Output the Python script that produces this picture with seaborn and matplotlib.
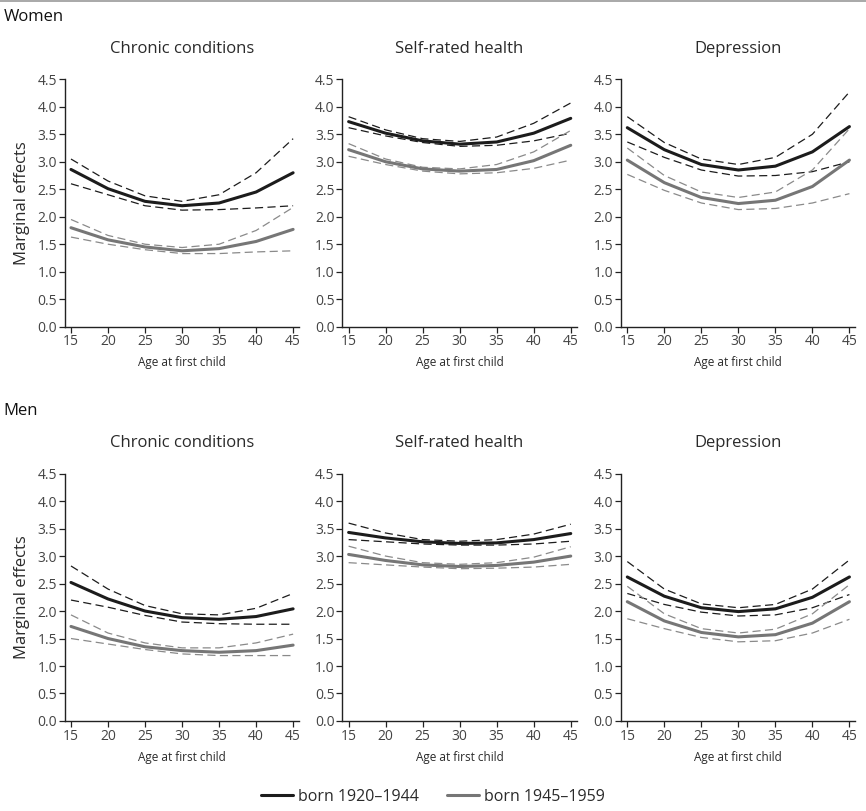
import numpy as np
import pandas as pd
import matplotlib
matplotlib.use("Agg")
import matplotlib.pyplot as plt
import seaborn as sns
from matplotlib.lines import Line2D

sns.set_theme(style="white")
plt.rcParams['font.family'] = ['Open Sans', 'DejaVu Sans']

ages = [15, 20, 25, 30, 35, 40, 45]
sexes = ["Women", "Men"]
outcomes = ["Chronic conditions", "Self-rated health", "Depression"]
cohorts = ["born 1920\u20131944", "born 1945\u20131959"]
yticks = [0.0, 0.5, 1.0, 1.5, 2.0, 2.5, 3.0, 3.5, 4.0, 4.5]
xticks = [15, 20, 25, 30, 35, 40, 45]

# Women - Chronic conditions
w_cc_old_est = [2.86, 2.51, 2.28, 2.20, 2.25, 2.45, 2.80]
w_cc_old_hi  = [3.05, 2.65, 2.38, 2.28, 2.40, 2.80, 3.42]
w_cc_old_lo  = [2.60, 2.40, 2.20, 2.12, 2.13, 2.16, 2.20]
w_cc_new_est = [1.80, 1.58, 1.45, 1.38, 1.42, 1.55, 1.77]
w_cc_new_hi  = [1.95, 1.66, 1.50, 1.44, 1.50, 1.75, 2.17]
w_cc_new_lo  = [1.63, 1.50, 1.40, 1.33, 1.33, 1.36, 1.38]
# Women - Self-rated health
w_sr_old_est = [3.73, 3.52, 3.38, 3.32, 3.36, 3.52, 3.79]
w_sr_old_hi  = [3.82, 3.58, 3.42, 3.37, 3.45, 3.70, 4.07]
w_sr_old_lo  = [3.62, 3.47, 3.35, 3.28, 3.30, 3.38, 3.52]
w_sr_new_est = [3.22, 3.00, 2.87, 2.83, 2.86, 3.02, 3.30]
w_sr_new_hi  = [3.33, 3.05, 2.90, 2.87, 2.95, 3.18, 3.57]
w_sr_new_lo  = [3.10, 2.95, 2.83, 2.78, 2.80, 2.88, 3.03]
# Women - Depression
w_dp_old_est = [3.62, 3.22, 2.95, 2.85, 2.92, 3.18, 3.64]
w_dp_old_hi  = [3.82, 3.35, 3.05, 2.95, 3.08, 3.50, 4.27]
w_dp_old_lo  = [3.36, 3.08, 2.85, 2.74, 2.75, 2.82, 3.00]
w_dp_new_est = [3.03, 2.62, 2.35, 2.24, 2.30, 2.55, 3.03]
w_dp_new_hi  = [3.25, 2.75, 2.45, 2.35, 2.45, 2.85, 3.60]
w_dp_new_lo  = [2.77, 2.48, 2.25, 2.13, 2.15, 2.25, 2.42]
# Men - Chronic conditions
m_cc_old_est = [2.52, 2.22, 2.00, 1.88, 1.85, 1.90, 2.04]
m_cc_old_hi  = [2.82, 2.40, 2.10, 1.95, 1.93, 2.05, 2.32]
m_cc_old_lo  = [2.20, 2.07, 1.92, 1.80, 1.77, 1.76, 1.76]
m_cc_new_est = [1.72, 1.50, 1.35, 1.28, 1.25, 1.28, 1.38]
m_cc_new_hi  = [1.93, 1.60, 1.42, 1.33, 1.33, 1.42, 1.58]
m_cc_new_lo  = [1.50, 1.40, 1.30, 1.22, 1.19, 1.19, 1.19]
# Men - Self-rated health
m_sr_old_est = [3.43, 3.33, 3.26, 3.23, 3.24, 3.30, 3.41]
m_sr_old_hi  = [3.60, 3.42, 3.30, 3.27, 3.30, 3.40, 3.58]
m_sr_old_lo  = [3.30, 3.26, 3.22, 3.20, 3.20, 3.22, 3.27]
m_sr_new_est = [3.03, 2.92, 2.84, 2.81, 2.83, 2.89, 3.00]
m_sr_new_hi  = [3.18, 3.00, 2.88, 2.85, 2.88, 2.98, 3.17]
m_sr_new_lo  = [2.88, 2.84, 2.80, 2.77, 2.78, 2.80, 2.85]
# Men - Depression
m_dp_old_est = [2.62, 2.27, 2.06, 1.99, 2.04, 2.25, 2.62]
m_dp_old_hi  = [2.90, 2.40, 2.13, 2.06, 2.12, 2.40, 2.93]
m_dp_old_lo  = [2.32, 2.12, 1.98, 1.91, 1.93, 2.06, 2.30]
m_dp_new_est = [2.17, 1.82, 1.61, 1.53, 1.57, 1.78, 2.17]
m_dp_new_hi  = [2.45, 1.95, 1.68, 1.60, 1.67, 1.95, 2.48]
m_dp_new_lo  = [1.86, 1.68, 1.52, 1.44, 1.46, 1.60, 1.85]

series = {
    ("Women", "Chronic conditions"): [(w_cc_old_est, w_cc_old_lo, w_cc_old_hi), (w_cc_new_est, w_cc_new_lo, w_cc_new_hi)],
    ("Women", "Self-rated health"): [(w_sr_old_est, w_sr_old_lo, w_sr_old_hi), (w_sr_new_est, w_sr_new_lo, w_sr_new_hi)],
    ("Women", "Depression"): [(w_dp_old_est, w_dp_old_lo, w_dp_old_hi), (w_dp_new_est, w_dp_new_lo, w_dp_new_hi)],
    ("Men", "Chronic conditions"): [(m_cc_old_est, m_cc_old_lo, m_cc_old_hi), (m_cc_new_est, m_cc_new_lo, m_cc_new_hi)],
    ("Men", "Self-rated health"): [(m_sr_old_est, m_sr_old_lo, m_sr_old_hi), (m_sr_new_est, m_sr_new_lo, m_sr_new_hi)],
    ("Men", "Depression"): [(m_dp_old_est, m_dp_old_lo, m_dp_old_hi), (m_dp_new_est, m_dp_new_lo, m_dp_new_hi)],
}

rows = []
for (sex, outc), lst in series.items():
    for cohort, (est, lo, hi) in zip(cohorts, lst):
        for kind, vals in (("est", est), ("lo", lo), ("hi", hi)):
            for a, v in zip(ages, vals):
                rows.append(dict(sex=sex, outcome=outc, cohort=cohort, kind=kind, age=a, value=v))
df = pd.DataFrame(rows)

colors = {cohorts[0]: "#1c1c1c", cohorts[1]: "#767676"}
dash_colors = {cohorts[0]: "#1c1c1c", cohorts[1]: "#8a8a8a"}
text_color = "#2a2a2a"

fig = plt.figure(figsize=(8.66, 8.11), dpi=100)
lefts = [0.0747, 0.3953, 0.7171]
width = 0.2706
bottoms = {"Women": 0.5972, "Men": 0.111}
height = 0.3050

for sex in sexes:
    for j, outc in enumerate(outcomes):
        ax = fig.add_axes([lefts[j], bottoms[sex], width, height])
        sub = df[(df.sex == sex) & (df.outcome == outc)]
        for cohort in cohorts:
            for kind in ("lo", "hi"):
                d = sub[(sub.cohort == cohort) & (sub.kind == kind)]
                sns.lineplot(data=d, x="age", y="value", ax=ax, color=dash_colors[cohort],
                             lw=0.9, estimator=None, sort=True)
                ax.lines[-1].set_dashes((6.5, 3.5))
            d = sub[(sub.cohort == cohort) & (sub.kind == "est")]
            sns.lineplot(data=d, x="age", y="value", ax=ax, color=colors[cohort],
                         lw=2.2, estimator=None, sort=True)
        ax.set_xlim(14.15, 45.8)
        ax.set_ylim(0, 4.5)
        ax.set_xticks(xticks)
        ax.set_yticks(yticks)
        ax.set_yticklabels([f"{t:.1f}" for t in yticks])
        for s in ("top", "right"):
            ax.spines[s].set_visible(False)
        for s in ("left", "bottom"):
            ax.spines[s].set_color("#222222")
            ax.spines[s].set_linewidth(1.0)
        ax.tick_params(axis="both", which="major", direction="out", length=4, width=0.9,
                       color="#222222", labelsize=10, labelcolor="#444444", pad=1.5,
                       bottom=True, left=True)
        ax.set_xlabel("Age at first child", fontsize=8.5, color=text_color, labelpad=5)
        if j == 0:
            ax.set_ylabel("Marginal effects", fontsize=12, color=text_color, labelpad=5)
        else:
            ax.set_ylabel("")
        ax.set_title(outc, fontsize=12, color=text_color, pad=19)
        if ax.get_legend() is not None:
            ax.get_legend().remove()
        ax.set_facecolor("white")

fig.text(0.004, 1 - 17 / 811, "Women", fontsize=12, color="#111111", va="center", ha="left")
fig.text(0.004, 1 - 411 / 811, "Men", fontsize=12, color="#111111", va="center", ha="left")
fig.add_artist(Line2D([0, 1], [0.9985, 0.9985], transform=fig.transFigure, color="#999999", lw=1.2))

handles = [Line2D([0], [0], color=colors[c], lw=2.2) for c in cohorts]
fig.legend(handles, cohorts, loc="center", bbox_to_anchor=(0.5, 1 - 797 / 811), ncol=2,
           frameon=False, fontsize=11.5, handlelength=2.0, handletextpad=0.3, columnspacing=1.8,
           labelcolor=text_color)

fig.savefig("out.png", dpi=100, facecolor="white")
